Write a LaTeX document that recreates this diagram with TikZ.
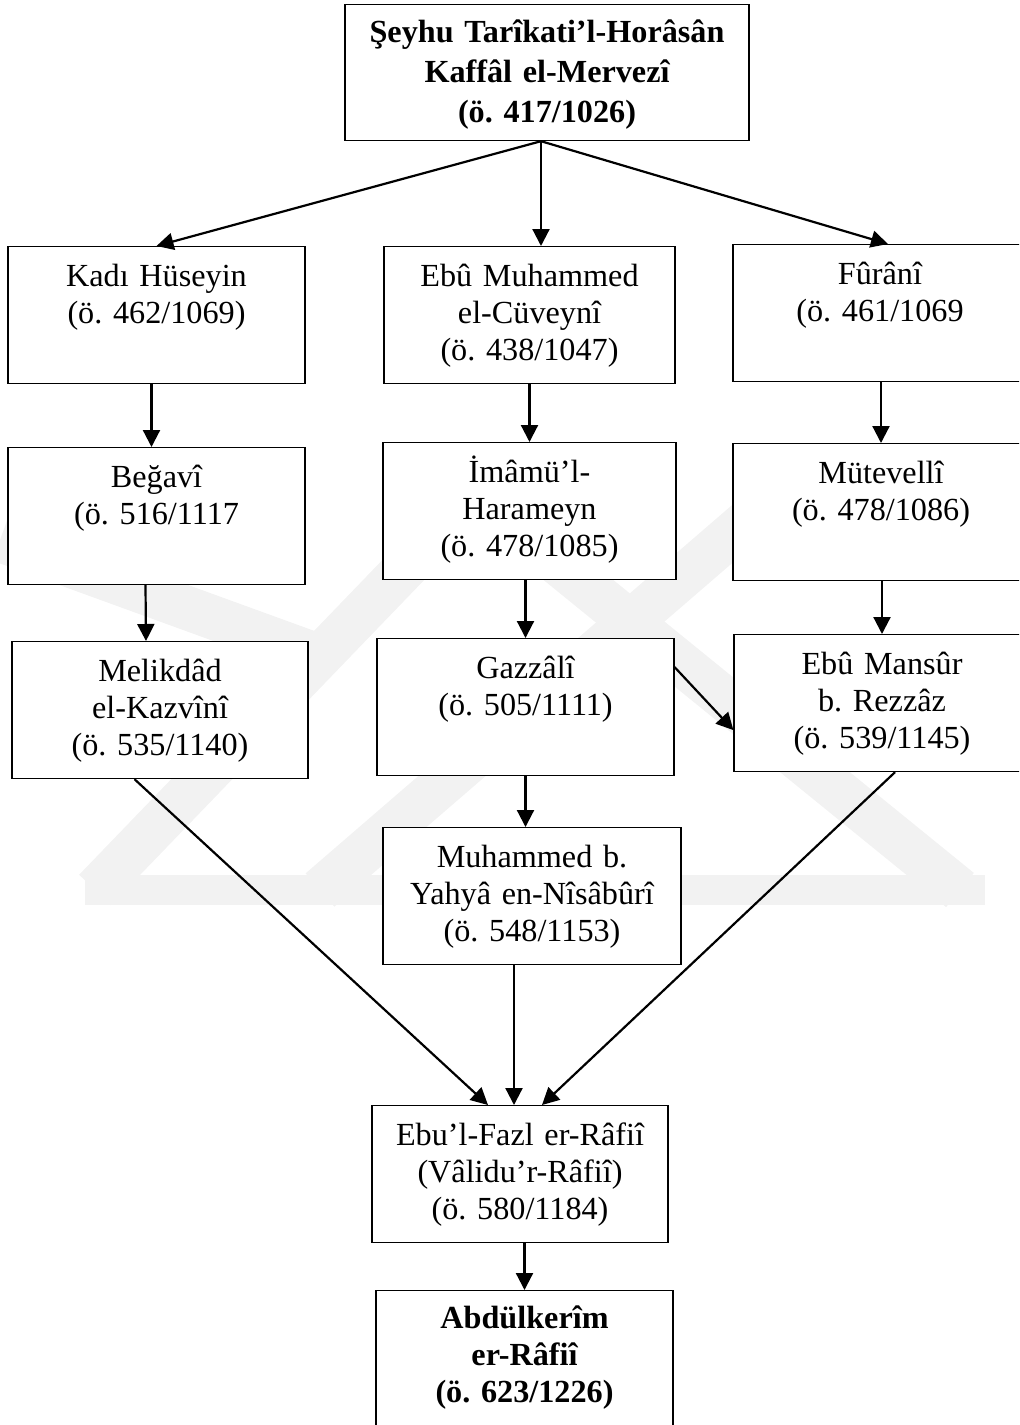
\documentclass[tikz,border=0pt]{standalone}
\usepackage{fontspec}
\setmainfont{Liberation Serif}
\usetikzlibrary{arrows.meta,calc}
\frenchspacing

\tikzset{
  person/.style={draw, line width=0.6pt, fill=white, align=center, anchor=north,
    inner xsep=0pt, inner ysep=0pt, text height=20pt, text depth=48.5pt,
    font=\fontsize{16.1pt}{18.4pt}\selectfont},
  master/.style={person, text height=19pt, text depth=49pt,
    font=\bfseries\fontsize{16.1pt}{20pt}\selectfont},
  link/.style={-{Triangle[length=8.5pt,width=8.5pt]}, line width=1.1pt},
  stripe/.style={line width=22pt, black!5}
}

\begin{document}
\begin{tikzpicture}[x=0.5pt, y=-0.5pt]

\clip (0,0) rectangle (1019,1425);

% faint watermark behind the chart
\draw[stripe] (0,540) -- (330,660);
\draw[stripe] (95,890) -- (490,480);
\draw[stripe] (320,890) -- (760,510);
\draw[stripe] (480,500) -- (960,890);
\draw[stripe, line width=15pt] (85,890) -- (985,890);

% teachers and students
\node[master, text width=202pt] (sheikh) at (547,4) {Şeyhu Tarîkati’l-Horâsân\\Kaffâl el-Mervezî\\(ö. 417/1026)};

\node[person, text width=148.5pt] (kadi) at (156.5,246) {Kadı Hüseyin\\(ö. 462/1069)};
\node[person, text width=145.5pt] (cuveyni) at (529.5,246) {Ebû Muhammed\\el-Cüveynî\\(ö. 438/1047)};
\node[person, text width=147pt] (furani) at (880,244) {Fûrânî\\(ö. 461/1069};

\node[person, text width=148.5pt] (begavi) at (156.5,447) {Beğavî\\(ö. 516/1117};
\node[person, text width=146.5pt] (imam) at (529.5,442) {İmâmü’l-\\Harameyn\\(ö. 478/1085)};
\node[person, text width=148pt] (mutevelli) at (881,443) {Mütevellî\\(ö. 478/1086)};

\node[person, text width=148pt] (melikdad) at (160,641) {Melikdâd\\el-Kazvînî\\(ö. 535/1140)};
\node[person, text width=148.5pt] (gazzali) at (525.5,638) {Gazzâlî\\(ö. 505/1111)};
\node[person, text width=148pt] (mansur) at (882,634) {Ebû Mansûr\\b. Rezzâz\\(ö. 539/1145)};

\node[person, text width=149pt] (nisaburi) at (532,827) {Muhammed b.\\Yahyâ en-Nîsâbûrî\\(ö. 548/1153)};

\node[person, text width=148pt] (fazl) at (520,1105) {Ebu’l-Fazl er-Râfiî\\(Vâlidu’r-Râfiî)\\(ö. 580/1184)};
\node[master, text width=148.5pt, font=\bfseries\fontsize{16.1pt}{18.5pt}\selectfont] (abdulkerim) at (524.5,1290) {Abdülkerîm\\er-Râfiî\\(ö. 623/1226)};

% links
\coordinate (fork) at ($(sheikh.south)+(-6,0)$);
\draw[link] (fork) -- (kadi.north);
\draw[link] (fork) -- (fork |- cuveyni.north);
\draw[link] (fork) -- ($(furani.north)+(8,0)$);

\draw[link] ($(kadi.south)+(-5,0)$) -- ($(begavi.north)+(-5,0)$);
\draw[link] ($(begavi.south)+(-11,0)$) -- ($(melikdad.north)+(-14,0)$);
\draw[link] (cuveyni.south) -- (cuveyni.south |- imam.north);
\draw[link] (imam.south -| gazzali.north) -- (gazzali.north);
\draw[link] (mutevelli.north |- furani.south) -- (mutevelli.north);
\draw[link] (mansur.north |- mutevelli.south) -- (mansur.north);

\draw[link] ($(gazzali.east)+(0,-40)$) -- ($(mansur.west)+(0,27)$);
\draw[link] (gazzali.south) -- (gazzali.south |- nisaburi.north);

\coordinate (join) at ($(fazl.north)+(-6,0)$);
\draw[link] ($(melikdad.south)+(-25.5,0)$) -- ($(fazl.north)+(-32,0)$);
\draw[link] (join |- nisaburi.south) -- (join);
\draw[link] ($(mansur.south)+(13,0)$) -- ($(fazl.north)+(22,0)$);

\draw[link] (abdulkerim.north |- fazl.south) -- (abdulkerim.north);

\end{tikzpicture}
\end{document}
